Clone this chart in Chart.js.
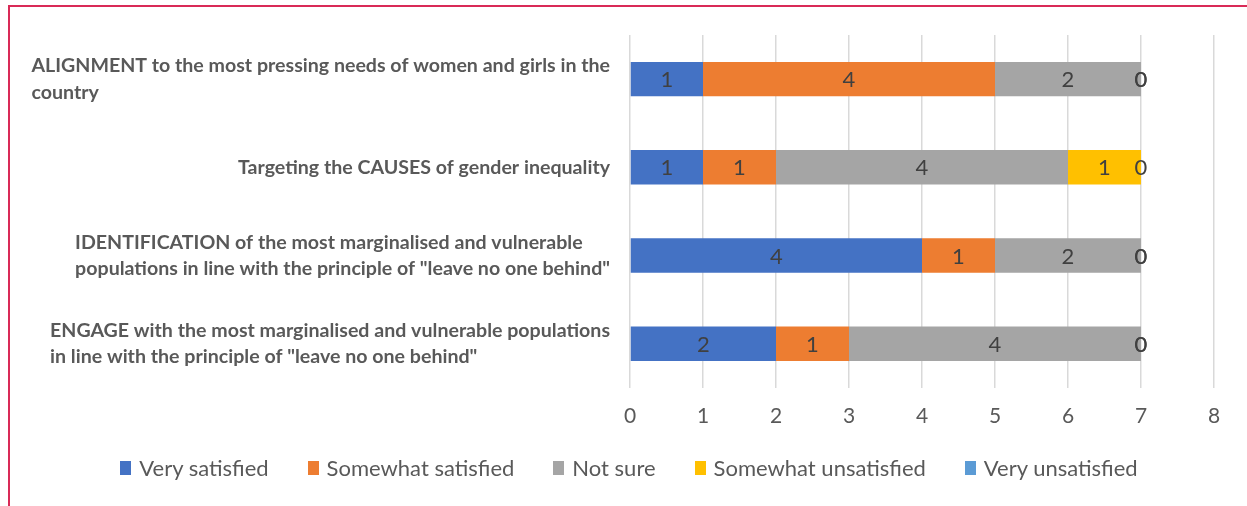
<!DOCTYPE html>
<html>
<head>
<meta charset="utf-8">
<title>Satisfaction by criterion</title>
<script src="https://cdn.jsdelivr.net/npm/chart.js@4"></script>
<style>
  html, body { margin: 0; padding: 0; background: #fff; overflow: hidden; }
  #wrap { position: relative; width: 1247px; height: 506px; overflow: hidden; }
  #frame {
    position: absolute; left: 8px; top: 5px; width: 1300px; height: 600px;
    border-left: 2px solid #d92a57; border-top: 2px solid #d92a57;
  }
  #chart { position: absolute; left: 0; top: 0; }
  #legend {
    position: absolute; left: 0; width: 1258px; top: 454px;
    display: flex; justify-content: center; gap: 39px;
    font: 22px Lato, sans-serif; color: #595959;
  }
  #legend span.item { display: flex; align-items: center; white-space: nowrap; }
  #legend span.box { display: inline-block; width: 11px; height: 14px; margin-right: 8px; }
</style>
</head>
<body>
<div id="wrap">
  <div id="frame"></div>
  <canvas id="chart" width="1247" height="506"></canvas>
  <div id="legend"></div>
</div>
<script>
// categories, each split into the lines it is printed on
const categories = [
  ['ALIGNMENT to the most pressing needs of women and girls in the', 'country'],
  ['Targeting the CAUSES of gender inequality'],
  ['IDENTIFICATION of the most marginalised and vulnerable', 'populations in line with the principle of "leave no one behind"'],
  ['ENGAGE with the most marginalised and vulnerable populations', 'in line with the principle of "leave no one behind"']
];

const seriesNames = ['Very satisfied', 'Somewhat satisfied', 'Not sure', 'Somewhat unsatisfied', 'Very unsatisfied'];
const seriesColors = ['#4472C4', '#ED7D31', '#A5A5A5', '#FFC000', '#5B9BD5'];

const verySatisfied       = [1, 1, 4, 2];
const somewhatSatisfied   = [4, 1, 1, 1];
const notSure             = [2, 4, 2, 4];
const somewhatUnsatisfied = [0, 1, 0, 0];
const veryUnsatisfied     = [0, 0, 0, 0];

const xTicks = [0, 1, 2, 3, 4, 5, 6, 7, 8];

const seriesValues = [verySatisfied, somewhatSatisfied, notSure, somewhatUnsatisfied, veryUnsatisfied];

// category names on the left: each block is right-aligned, lines inside it left-aligned
const categoryLabels = {
  id: 'categoryLabels',
  afterDraw(chart) {
    const ctx = chart.ctx;
    const y = chart.scales.y;
    const lineH = 26.5;
    ctx.save();
    ctx.font = 'bold 19.6px Lato, sans-serif';
    ctx.fillStyle = '#595959';
    ctx.textBaseline = 'middle';
    ctx.textAlign = 'left';
    categories.forEach((lines, i) => {
      const cy = y.getPixelForValue(i);
      const w = Math.max(...lines.map(l => ctx.measureText(l).width));
      const x0 = chart.chartArea.left - 20 - w;
      lines.forEach((l, j) => {
        ctx.fillText(l, x0, cy + (j - (lines.length - 1) / 2) * lineH);
      });
    });
    ctx.restore();
  }
};

// value printed in the middle of every segment, zeros included
const valueLabels = {
  id: 'valueLabels',
  afterDatasetsDraw(chart) {
    const ctx = chart.ctx;
    ctx.save();
    ctx.font = '22px Lato, sans-serif';
    ctx.fillStyle = '#404040';
    ctx.textAlign = 'center';
    ctx.textBaseline = 'middle';
    chart.data.datasets.forEach((ds, di) => {
      const meta = chart.getDatasetMeta(di);
      meta.data.forEach((bar, i) => {
        ctx.fillText(String(ds.data[i]), (bar.x + bar.base) / 2, bar.y + 1);
      });
    });
    ctx.restore();
  }
};

const legend = document.getElementById('legend');
seriesNames.forEach((name, i) => {
  const item = document.createElement('span');
  item.className = 'item';
  const box = document.createElement('span');
  box.className = 'box';
  box.style.background = seriesColors[i];
  item.appendChild(box);
  item.appendChild(document.createTextNode(name));
  legend.appendChild(item);
});

new Chart(document.getElementById('chart'), {
  type: 'bar',
  data: {
    labels: categories.map(c => c.join(' ')),
    datasets: seriesNames.map((name, i) => ({
      label: name,
      data: seriesValues[i],
      backgroundColor: seriesColors[i],
      borderWidth: 0,
      categoryPercentage: 1,
      barPercentage: 0.39
    }))
  },
  options: {
    indexAxis: 'y',
    responsive: false,
    animation: false,
    layout: { padding: { top: 35, right: 33, bottom: 61, left: 0 } },
    plugins: {
      legend: { display: false },
      tooltip: { enabled: false }
    },
    scales: {
      x: {
        stacked: true,
        min: 0,
        max: 8,
        afterBuildTicks(scale) { scale.ticks = xTicks.map(v => ({ value: v })); },
        grid: { color: '#d9d9d9', lineWidth: 1.5, drawTicks: false },
        border: { display: false },
        ticks: { padding: 16, color: '#595959', font: { family: 'Lato', size: 21 } }
      },
      y: {
        stacked: true,
        grid: { display: false },
        border: { display: false },
        ticks: { display: false },
        afterFit(scale) { scale.width = 630; }
      }
    }
  },
  plugins: [categoryLabels, valueLabels]
});
</script>
</body>
</html>
